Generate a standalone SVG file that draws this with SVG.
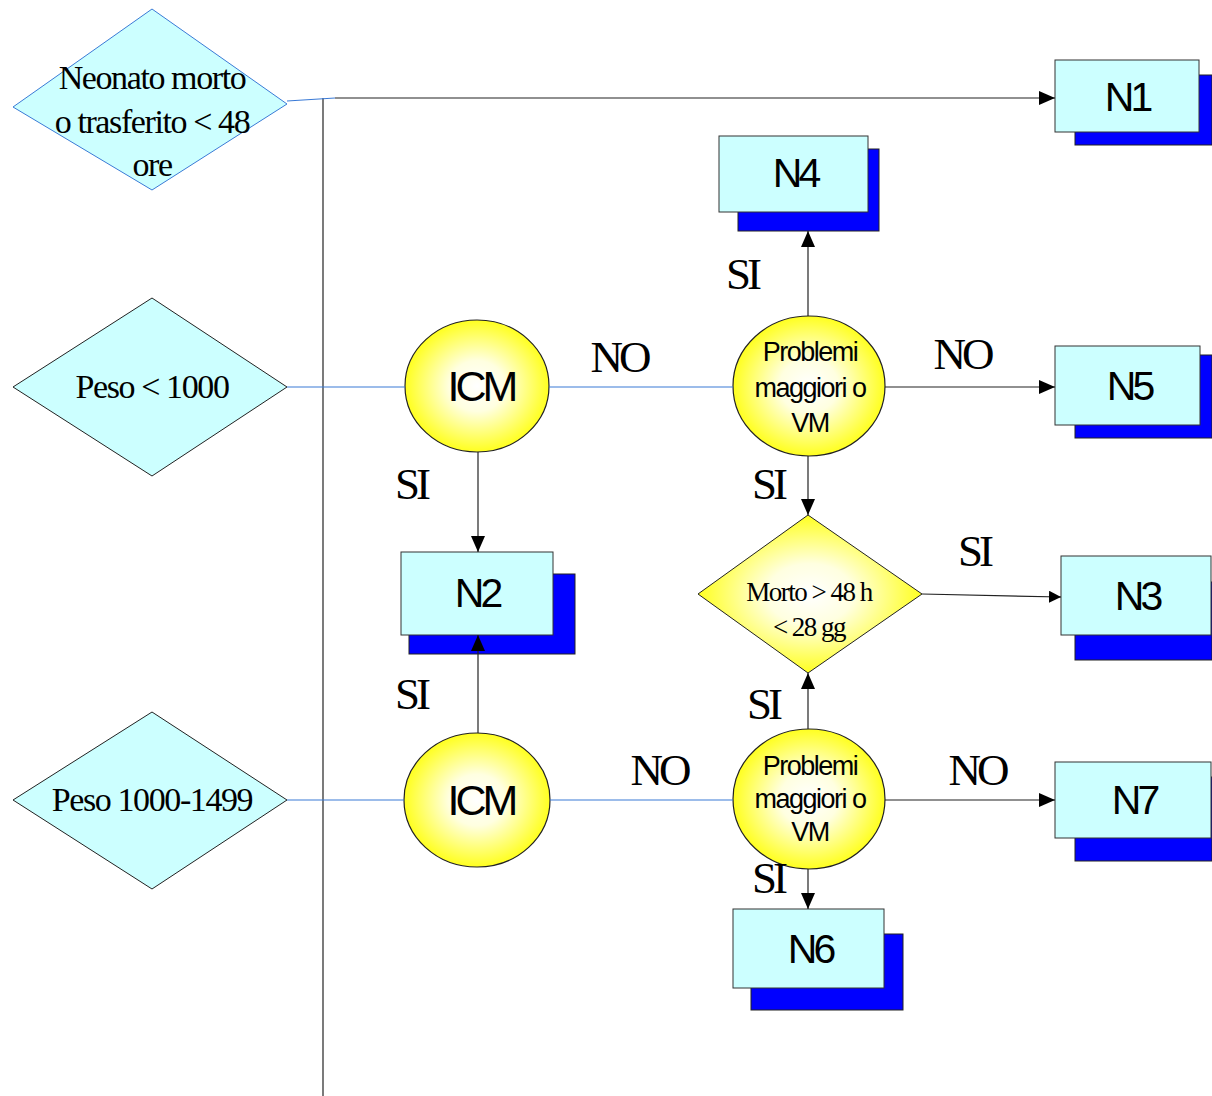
<svg xmlns="http://www.w3.org/2000/svg" width="1212" height="1096" viewBox="0 0 1212 1096">
<defs>
  <radialGradient id="yg" cx="50%" cy="50%" r="55%">
    <stop offset="0" stop-color="#ffffff"/>
    <stop offset="0.35" stop-color="#ffffe0"/>
    <stop offset="1" stop-color="#ffff00"/>
  </radialGradient>
  <marker id="ah" markerWidth="16" markerHeight="14" refX="16" refY="7" orient="auto" markerUnits="userSpaceOnUse">
    <path d="M0,0 L16,7 L0,14 Z" fill="#000"/>
  </marker>
  <marker id="ahs" markerWidth="12" markerHeight="12" refX="12" refY="6" orient="auto" markerUnits="userSpaceOnUse">
    <path d="M0,0 L12,6 L0,12 Z" fill="#000"/>
  </marker>
</defs>
<style>
  .box{fill:#ccffff;stroke:#333;stroke-width:1}
  .shadow{fill:#0000ff;stroke:#222;stroke-width:1}
  .dia{fill:#ccffff;stroke:#222;stroke-width:1}
  .ydia{fill:url(#yg);stroke:#222;stroke-width:1}
  .circ{fill:url(#yg);stroke:#222;stroke-width:1.2}
  .ln{stroke:#222;stroke-width:1.2;fill:none}
  .bl{stroke:#3a7ad6;stroke-width:1.2;fill:none}
  .nt{font-family:"Liberation Sans",Arial,sans-serif;font-size:41px;letter-spacing:-4px;text-anchor:middle;fill:#000}
  .ct{font-family:"Liberation Sans",Arial,sans-serif;font-size:43px;letter-spacing:-4px;text-anchor:middle;fill:#000}
  .pt{font-family:"Liberation Sans",Arial,sans-serif;font-size:27px;letter-spacing:-1.5px;text-anchor:middle;fill:#000}
  .st{font-family:"Liberation Serif","Times New Roman",serif;font-size:34px;letter-spacing:-1.4px;text-anchor:middle;fill:#000}
  .mt{font-family:"Liberation Serif","Times New Roman",serif;font-size:27px;letter-spacing:-1.5px;text-anchor:middle;fill:#000}
  .lb{font-family:"Liberation Serif","Times New Roman",serif;font-size:45px;letter-spacing:-4px;text-anchor:middle;fill:#000}
</style>

<g id="d1">
  <polygon points="152,9 287,104 152,190 13,107" style="fill:#ccffff;stroke:#3a7ad6;stroke-width:1"/>
  <text class="st" x="152" y="89">Neonato morto</text>
  <text class="st" x="152" y="133">o trasferito &lt; 48</text>
  <text class="st" x="152" y="176">ore</text>
</g>
<g id="d2">
  <polygon class="dia" points="152,298 287,387 152,476 13,387"/>
  <text class="st" x="152" y="398">Peso &lt; 1000</text>
</g>
<g id="d3">
  <polygon class="dia" points="152,712 287,800 152,889 13,800"/>
  <text class="st" x="152" y="811">Peso 1000-1499</text>
</g>

<g id="n1">
  <rect class="shadow" x="1075" y="75" width="137" height="70"/>
  <rect class="box" x="1055" y="60" width="144" height="72"/>
  <text class="nt" x="1127" y="111">N1</text>
</g>
<g id="n4">
  <rect class="shadow" x="738" y="149" width="141" height="82"/>
  <rect class="box" x="719" y="136" width="149" height="76"/>
  <text class="nt" x="795" y="187">N4</text>
</g>
<g id="n5">
  <rect class="shadow" x="1075" y="355" width="137" height="83"/>
  <rect class="box" x="1055" y="346" width="145" height="79"/>
  <text class="nt" x="1129" y="400">N5</text>
</g>
<g id="n2">
  <rect class="shadow" x="409" y="574" width="166" height="80"/>
  <rect class="box" x="401" y="552" width="152" height="83"/>
  <text class="nt" x="477" y="607">N2</text>
</g>
<g id="n3">
  <rect class="shadow" x="1075" y="582" width="137" height="78"/>
  <rect class="box" x="1061" y="556" width="150" height="79"/>
  <text class="nt" x="1137" y="610">N3</text>
</g>
<g id="n7">
  <rect class="shadow" x="1075" y="777" width="137" height="84"/>
  <rect class="box" x="1055" y="762" width="156" height="76"/>
  <text class="nt" x="1134" y="814">N7</text>
</g>
<g id="n6">
  <rect class="shadow" x="751" y="934" width="152" height="76"/>
  <rect class="box" x="733" y="909" width="151" height="79"/>
  <text class="nt" x="810" y="963">N6</text>
</g>

<g id="icm1">
  <ellipse class="circ" cx="477" cy="386" rx="72" ry="66"/>
  <text class="ct" x="481" y="401">ICM</text>
</g>
<g id="icm2">
  <ellipse class="circ" cx="477" cy="800" rx="73" ry="67"/>
  <text class="ct" x="481" y="815">ICM</text>
</g>
<g id="p1">
  <ellipse class="circ" cx="809" cy="386" rx="76" ry="70"/>
  <text class="pt" x="810" y="361">Problemi</text>
  <text class="pt" x="810" y="397">maggiori o</text>
  <text class="pt" x="810" y="432">VM</text>
</g>
<g id="p2">
  <ellipse class="circ" cx="809" cy="799" rx="76" ry="70"/>
  <text class="pt" x="810" y="775">Problemi</text>
  <text class="pt" x="810" y="808">maggiori o</text>
  <text class="pt" x="810" y="841">VM</text>
</g>
<g id="morto">
  <polygon class="ydia" points="808,515 922,594 808,673 698,594"/>
  <text class="mt" x="809" y="601">Morto &gt; 48 h</text>
  <text class="mt" x="809" y="636">&lt; 28 gg</text>
</g>

<g id="connectors">
  <line class="ln" x1="323" y1="98" x2="323" y2="1096"/>
  <polyline class="bl" points="287,101 335,98"/>
  <line class="ln" x1="335" y1="98" x2="1055" y2="98" marker-end="url(#ah)"/>
  <line class="bl" x1="287" y1="387" x2="405" y2="387"/>
  <line class="bl" x1="549" y1="387" x2="733" y2="387"/>
  <line class="ln" x1="885" y1="387" x2="1055" y2="387" marker-end="url(#ah)"/>
  <line class="ln" x1="808" y1="316" x2="808" y2="231" marker-end="url(#ah)"/>
  <line class="ln" x1="478" y1="452" x2="478" y2="552" marker-end="url(#ah)"/>
  <line class="ln" x1="808" y1="456" x2="808" y2="515" marker-end="url(#ah)"/>
  <line class="ln" x1="922" y1="594" x2="1061" y2="597" marker-end="url(#ahs)"/>
  <line class="ln" x1="478" y1="733" x2="478" y2="635" marker-end="url(#ah)"/>
  <line class="ln" x1="808" y1="729" x2="808" y2="673" marker-end="url(#ah)"/>
  <line class="bl" x1="287" y1="800" x2="404" y2="800"/>
  <line class="bl" x1="550" y1="800" x2="733" y2="800"/>
  <line class="ln" x1="885" y1="800" x2="1055" y2="800" marker-end="url(#ah)"/>
  <line class="ln" x1="808" y1="869" x2="808" y2="909" marker-end="url(#ah)"/>
  <text class="lb" x="619" y="372">NO</text>
  <text class="lb" x="962" y="369">NO</text>
  <text class="lb" x="659" y="785">NO</text>
  <text class="lb" x="977" y="785">NO</text>
  <text class="lb" x="742" y="289">SI</text>
  <text class="lb" x="411" y="499">SI</text>
  <text class="lb" x="768" y="499">SI</text>
  <text class="lb" x="411" y="709">SI</text>
  <text class="lb" x="763" y="719">SI</text>
  <text class="lb" x="974" y="566">SI</text>
  <text class="lb" x="768" y="893">SI</text>
</g>
</svg>
